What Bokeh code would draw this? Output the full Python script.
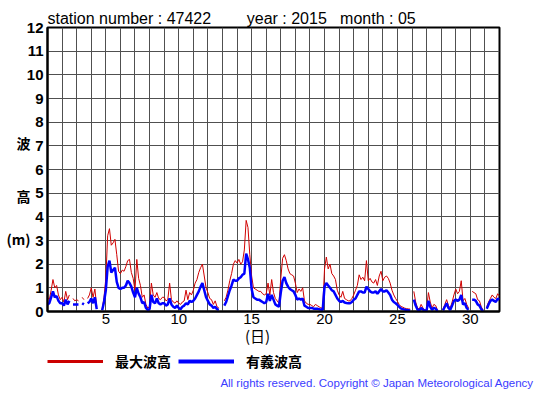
import numpy as np
from bokeh.plotting import figure
from bokeh.layouts import column
from bokeh.models import (ColumnDataSource, FixedTicker, Legend, LegendItem, Range1d,
                          LinearAxis)
from bokeh.embed import file_html
from bokeh.resources import INLINE

N = float('nan')

# 3-hourly samples, 8 per day, May 1 .. May 31, plus final point at day 32
max_wave = [
    0.6, 0.5, 0.9, 1.35, 1.0, 1.1, 0.7, 0.5,        # 1
    0.6, 0.4, 0.85, 0.5, 0.7, N, 0.55, 0.45,        # 2
    0.5, 0.45, N, 0.6, 0.5, N, 0.55, 0.7,           # 3
    1.0, 0.6, 0.95, 0.2, N, N, 0.1, 0.6,            # 4
    1.4, 3.2, 3.5, 2.8, 2.9, 3.05, 2.4, 1.7,        # 5
    1.6, 1.75, 1.7, 1.9, 2.15, 2.2, 1.65, 1.4,      # 6
    0.9, 2.2, 1.4, 1.1, 0.6, 0.7, 0.3, 0.15,        # 7
    0.2, 1.2, 0.7, 0.6, 0.8, 0.55, 0.5, 0.6,        # 8
    0.6, 0.45, 0.5, 1.2, 0.5, 0.4, 0.35, 0.45,      # 9
    0.35, 0.3, 0.4, 0.45, 0.9, 0.5, 0.8, 0.7,       # 10
    0.9, 1.2, 1.35, 1.65, 1.85, 2.0, 1.5, 1.0,      # 11
    0.8, 0.55, 0.5, 0.3, 0.45, 0.2, 0.15, N,        # 12
    N, 0.45, 0.6, 0.9, 1.3, 1.6, 2.0, 2.15,         # 13
    2.05, 2.2, 2.0, 2.1, 2.6, 3.85, 3.55, 2.4,      # 14
    1.5, 1.0, 0.95, 0.9, 0.85, 0.85, 0.75, 0.7,     # 15
    0.75, 1.2, 0.7, 1.35, 0.8, 0.55, 0.45, 0.35,    # 16
    1.4, 2.25, 2.4, 2.15, 1.8, 1.6, 1.55, 1.5,      # 17
    1.2, 0.8, 0.95, 0.85, 1.0, 0.45, 0.35, 0.3,     # 18
    0.3, 0.25, 0.2, 0.3, 0.25, 0.2, 0.15, 0.15,     # 19
    1.8, 2.3, 1.8, 2.0, 1.6, 1.5, 1.35, 0.9,        # 20
    0.7, 0.6, 0.85, 0.55, 0.5, 0.45, 0.45, 0.55,    # 21
    0.7, 0.9, 1.1, 1.55, 1.35, 1.45, 1.3, 2.15,     # 22
    1.3, 1.4, 1.25, 1.2, 1.35, 1.1, 1.5, 1.7,       # 23
    1.3, 1.45, 1.5, 1.4, 1.2, 0.9, 0.7, 0.55,       # 24
    0.43, 0.29, 0.21, 0.18, 0.14, 0.12, 0.11, 0.1,  # 25
    N, 0.85, 0.4, 0.15, 0.1, 0.3, 0.15, 0.05,       # 26
    0.1, 0.8, 0.4, 0.15, 0.3, 0.25, 0.05, N,        # 27
    N, 0.1, 0.3, 0.5, 0.25, 0.15, 0.4, 0.7,         # 28
    0.95, 0.75, 0.85, 1.3, 0.45, 0.55, 0.3, 0.15,   # 29
    N, 0.85, 0.8, 0.75, 0.5, 0.45, 0.2, 0.05,       # 30
    N, 0.2, 0.4, 0.55, 0.7, 0.6, 0.55, 0.75,        # 31
    0.65,
]

sig_wave = [
    0.3, 0.35, 0.6, 0.85, 0.6, 0.65, 0.45, 0.35,    # 1
    0.35, 0.25, 0.5, 0.3, 0.45, N, 0.3, 0.3,        # 2
    0.3, 0.3, N, 0.35, 0.3, N, 0.35, 0.4,           # 3
    0.55, 0.35, 0.6, 0.1, N, N, 0.05, 0.4,          # 4
    0.9, 1.9, 2.15, 1.65, 1.75, 1.85, 1.25, 1.0,    # 5
    0.95, 1.0, 1.0, 1.1, 1.3, 1.2, 1.05, 0.8,       # 6
    0.6, 1.0, 0.75, 0.6, 0.35, 0.4, 0.15, 0.07,     # 7
    0.1, 0.7, 0.4, 0.35, 0.55, 0.35, 0.3, 0.35,     # 8
    0.35, 0.25, 0.3, 0.55, 0.3, 0.2, 0.15, 0.25,    # 9
    0.15, 0.1, 0.2, 0.25, 0.35, 0.3, 0.45, 0.4,     # 10
    0.45, 0.55, 0.7, 0.85, 1.05, 1.2, 0.9, 0.6,     # 11
    0.45, 0.3, 0.25, 0.15, 0.2, 0.1, 0.07, N,       # 12
    N, 0.25, 0.4, 0.65, 0.9, 1.1, 1.35, 1.3,        # 13
    1.3, 1.4, 1.45, 1.55, 1.6, 2.45, 2.2, 1.85,     # 14
    0.95, 0.6, 0.55, 0.5, 0.5, 0.45, 0.4, 0.35,     # 15
    0.4, 0.75, 0.45, 0.7, 0.5, 0.3, 0.25, 0.2,      # 16
    0.8, 1.3, 1.45, 1.2, 1.05, 0.95, 0.9, 0.85,     # 17
    0.7, 0.5, 0.55, 0.5, 0.55, 0.25, 0.2, 0.15,     # 18
    0.15, 0.15, 0.12, 0.12, 0.12, 0.1, 0.08, 0.07,  # 19
    1.05, 1.2, 1.1, 1.0, 0.9, 0.85, 0.7, 0.55,      # 20
    0.45, 0.4, 0.45, 0.38, 0.36, 0.35, 0.35, 0.4,   # 21
    0.5, 0.55, 0.7, 0.85, 0.85, 0.8, 0.8, 1.05,     # 22
    0.95, 0.85, 0.8, 0.8, 0.85, 0.75, 0.85, 0.95,   # 23
    0.85, 0.85, 0.9, 0.8, 0.7, 0.5, 0.4, 0.35,      # 24
    0.28, 0.2, 0.12, 0.1, 0.08, 0.06, 0.05, 0.04,   # 25
    N, 0.5, 0.25, 0.08, 0.05, 0.15, 0.08, 0.02,     # 26
    0.05, 0.45, 0.2, 0.07, 0.15, 0.12, 0.02, N,     # 27
    N, 0.05, 0.2, 0.35, 0.15, 0.07, 0.25, 0.45,     # 28
    0.5, 0.45, 0.5, 0.7, 0.3, 0.35, 0.15, 0.07,     # 29
    N, 0.5, 0.5, 0.45, 0.3, 0.25, 0.1, 0.02,        # 30
    N, 0.12, 0.3, 0.45, 0.5, 0.45, 0.4, 0.55,       # 31
    0.5,
]

hours = np.arange(0, 31 * 24 + 1, 3)
day = 1 + hours / 24.0

y_ticks = list(range(0, 13))
x_label_ticks = [5, 10, 15, 20, 25, 30]
x_grid_ticks = list(range(1, 33))

title_text = ("station number : 47422" + "\u00a0" * 8 + "year : 2015" + "\u00a0" * 3
              + "month : 05")
# caption pieces and the axis values beside / under which they stand
y_caption = ["波", "高", "(m)"]
y_caption_at = [7.1, 4.9, 3.08]
x_caption = "(日)"
x_caption_at = 15.4
legend_labels = ["最大波高", "有義波高"]
copyright_text = "All rights reserved. Copyright \u00a9 Japan Meteorological Agency"
copyright_at = 25.9


def bare_axis(ax, font, size, style, color, standoff):
    ax.axis_line_color = None
    ax.major_tick_in = 0
    ax.major_tick_out = 0
    ax.minor_tick_in = 0
    ax.minor_tick_out = 0
    ax.major_label_standoff = standoff
    ax.major_label_text_font = font
    ax.major_label_text_font_size = size
    ax.major_label_text_font_style = style
    ax.major_label_text_color = color


src = ColumnDataSource(dict(day=day, mx=max_wave, sg=sig_wave))

# ---------------- main chart ----------------
p = figure(width=550, height=348, x_range=Range1d(1, 32), y_range=Range1d(0, 12),
           output_backend="svg", toolbar_location=None,
           min_border_left=47, min_border_right=51, min_border_top=27, min_border_bottom=37)
p.background_fill_color = "white"
p.border_fill_color = "white"
p.outline_line_color = "black"
p.outline_line_width = 2

p.title.text = title_text
p.title.align = "left"
p.title.text_font = "Liberation Sans"
p.title.text_font_size = "16px"
p.title.text_font_style = "normal"
p.title.text_color = "black"
p.title.standoff = 2

xax = p.xaxis[0]
yax = p.yaxis[0]
xax.ticker = FixedTicker(ticks=x_label_ticks)
yax.ticker = FixedTicker(ticks=y_ticks)
p.xgrid.ticker = FixedTicker(ticks=x_grid_ticks)
p.ygrid.ticker = FixedTicker(ticks=y_ticks)
for g in (p.xgrid, p.ygrid):
    g.grid_line_color = "#505050"
    g.grid_line_width = 1
    g.grid_line_alpha = 1

for ax in (xax, yax):
    ax.major_tick_in = 0
    ax.major_tick_out = 0
    ax.minor_tick_in = 0
    ax.minor_tick_out = 0
    ax.axis_line_color = "black"
    ax.axis_line_width = 2
    ax.major_label_text_color = "black"
    ax.major_label_text_font = "Liberation Sans"

xax.major_label_text_font_size = "15px"
xax.major_label_standoff = 2
yax.major_label_text_font_size = "15px"
yax.major_label_text_font_style = "bold"
yax.major_label_standoff = 4

# caption axis carrying 波 / 高 / (m) beside the height axis
ycap = LinearAxis(ticker=FixedTicker(ticks=y_caption_at),
                  major_label_overrides={v: t for v, t in zip(y_caption_at, y_caption)})
bare_axis(ycap, "Noto Sans CJK JP", "14px", "bold", "black", -7)
p.add_layout(ycap, "left")

# caption axis carrying (日) under the day axis
xcap = LinearAxis(ticker=FixedTicker(ticks=[x_caption_at]),
                  major_label_overrides={x_caption_at: x_caption})
bare_axis(xcap, "Noto Sans CJK JP", "15px", "normal", "black", -2)
p.add_layout(xcap, "below")

p.line("day", "mx", source=src, line_color="#d00000", line_width=1)
p.line("day", "sg", source=src, line_color="#0000ff", line_width=2.5)

# ---------------- strip below: legend and copyright ----------------
p2 = figure(width=550, height=43, output_backend="svg", toolbar_location=None,
            x_axis_type=None, y_axis_type=None, x_range=Range1d(1, 32), y_range=Range1d(0, 1),
            min_border_left=47, min_border_right=51, min_border_top=0, min_border_bottom=14,
            outline_line_color=None)
p2.grid.visible = False
p2.background_fill_color = "white"
p2.border_fill_color = "white"

r_leg1 = p2.line([N], [N], line_color="#cc0000", line_width=3)
r_leg2 = p2.line([N], [N], line_color="#0000ff", line_width=4)
legend = Legend(items=[LegendItem(label=legend_labels[0], renderers=[r_leg1]),
                       LegendItem(label=legend_labels[1], renderers=[r_leg2])],
                location=(0, 5), orientation="horizontal",
                glyph_width=56, glyph_height=20, label_height=20, label_standoff=12,
                spacing=7, padding=0, margin=0,
                label_text_font="Noto Sans CJK JP", label_text_font_style="bold",
                label_text_font_size="14px", label_text_color="black",
                border_line_color=None, background_fill_alpha=0)
p2.add_layout(legend)

ccap = LinearAxis(ticker=FixedTicker(ticks=[copyright_at]),
                  major_label_overrides={copyright_at: copyright_text})
bare_axis(ccap, "Liberation Sans", "11.5px", "normal", "#3b3bff", 0)
p2.add_layout(ccap, "below")

open("out.html", "w").write(file_html(column(p, p2), INLINE))
